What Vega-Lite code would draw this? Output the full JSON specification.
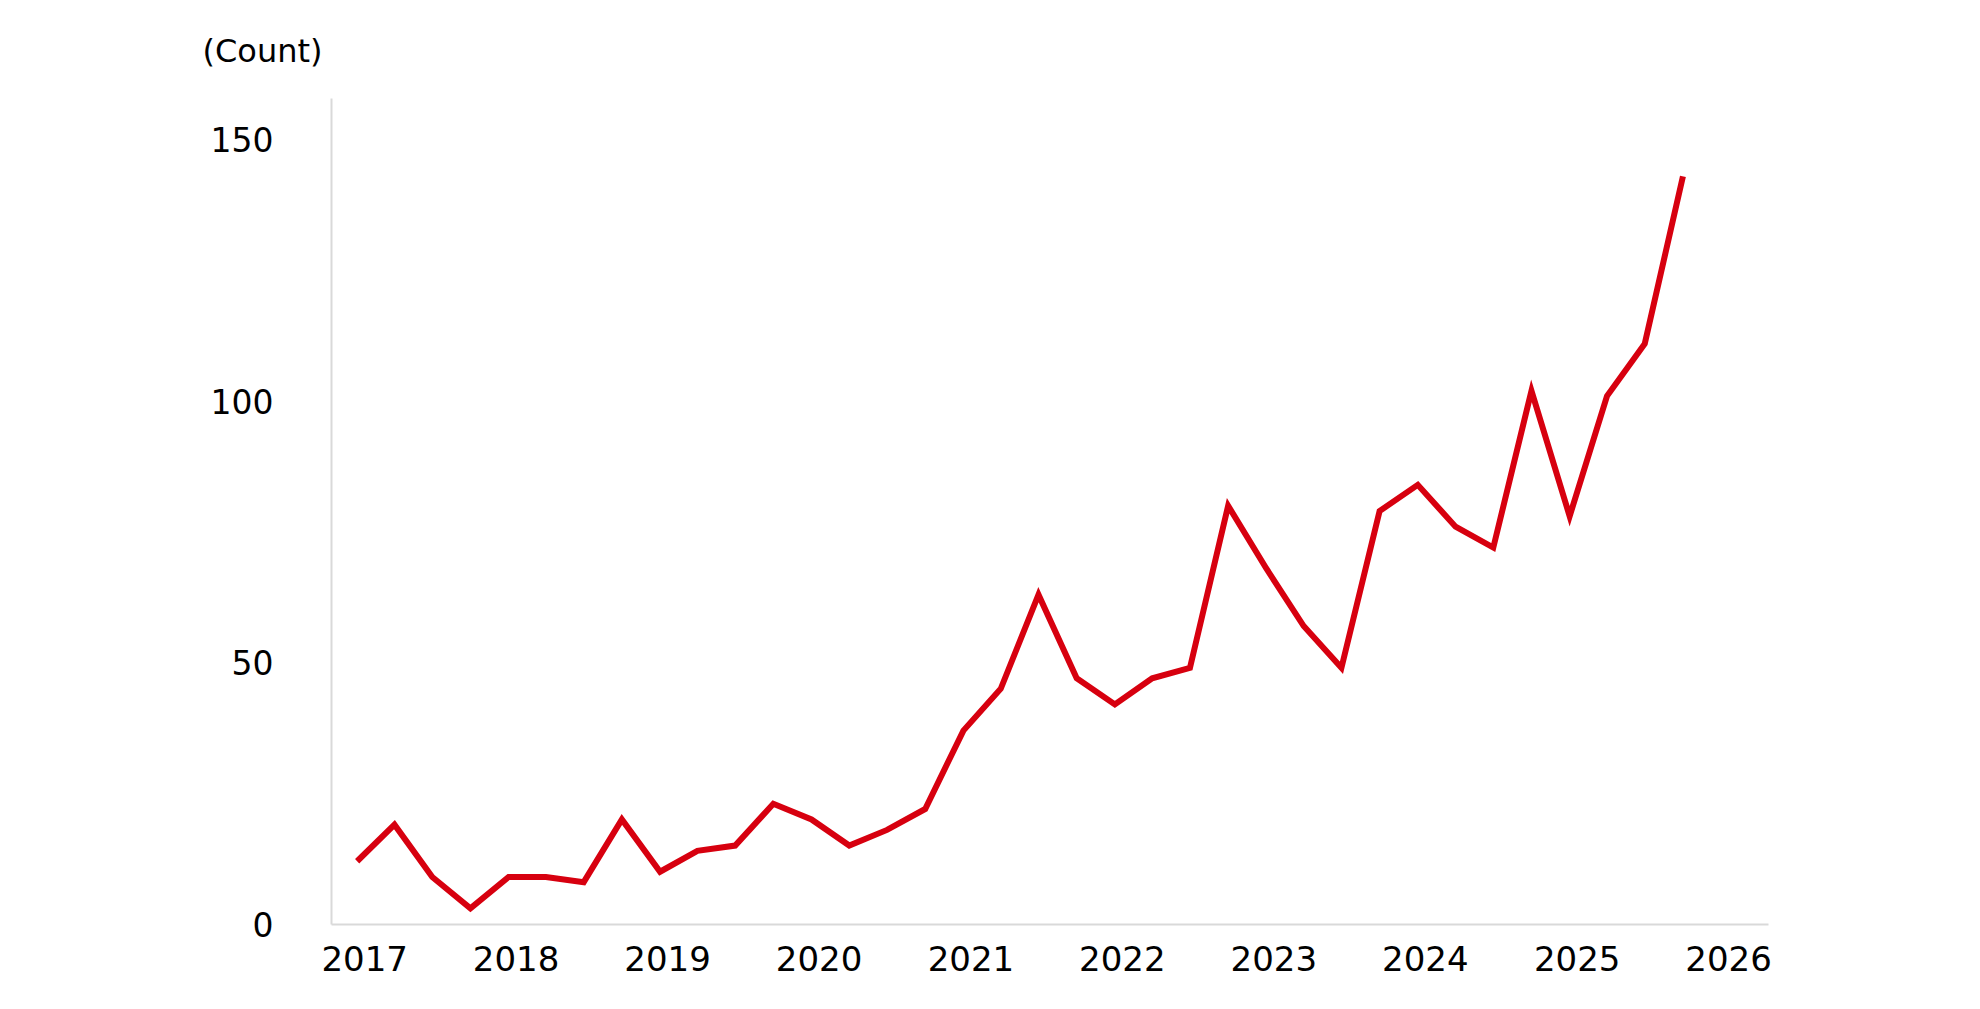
{
  "$schema": "https://vega.github.io/schema/vega-lite/v6.json",
  "width": 1437,
  "height": 826,
  "autosize": "none",
  "padding": {"left": 331, "top": 98, "right": 212, "bottom": 85},
  "background": "white",
  "config": {"view": {"stroke": null}},
  "data": {
    "values": [
      {"date": "2017-01-01", "count": 12},
      {"date": "2017-04-01", "count": 19},
      {"date": "2017-07-01", "count": 9},
      {"date": "2017-10-01", "count": 3},
      {"date": "2018-01-01", "count": 9},
      {"date": "2018-04-01", "count": 9},
      {"date": "2018-07-01", "count": 8},
      {"date": "2018-10-01", "count": 20},
      {"date": "2019-01-01", "count": 10},
      {"date": "2019-04-01", "count": 14},
      {"date": "2019-07-01", "count": 15},
      {"date": "2019-10-01", "count": 23},
      {"date": "2020-01-01", "count": 20},
      {"date": "2020-04-01", "count": 15},
      {"date": "2020-07-01", "count": 18},
      {"date": "2020-10-01", "count": 22},
      {"date": "2021-01-01", "count": 37},
      {"date": "2021-04-01", "count": 45},
      {"date": "2021-07-01", "count": 63},
      {"date": "2021-10-01", "count": 47},
      {"date": "2022-01-01", "count": 42},
      {"date": "2022-04-01", "count": 47},
      {"date": "2022-07-01", "count": 49},
      {"date": "2022-10-01", "count": 80},
      {"date": "2023-01-01", "count": 68},
      {"date": "2023-04-01", "count": 57},
      {"date": "2023-07-01", "count": 49},
      {"date": "2023-10-01", "count": 79},
      {"date": "2024-01-01", "count": 84},
      {"date": "2024-04-01", "count": 76},
      {"date": "2024-07-01", "count": 72},
      {"date": "2024-10-01", "count": 102},
      {"date": "2025-01-01", "count": 78},
      {"date": "2025-04-01", "count": 101},
      {"date": "2025-07-01", "count": 111},
      {"date": "2025-10-01", "count": 143}
    ]
  },
  "mark": {"type": "line", "color": "#d7000f", "strokeWidth": 6, "strokeJoin": "miter"},
  "encoding": {
    "x": {
      "field": "date",
      "type": "temporal",
      "scale": {"domain": ["2016-10-30", "2026-04-24"]},
      "axis": {
        "title": null,
        "format": "%Y",
        "tickCount": {"interval": "year", "step": 1},
        "grid": false,
        "ticks": false,
        "domainColor": "#d9d9d9",
        "domainWidth": 2,
        "labelFont": "DejaVu Sans",
        "labelFontSize": 34,
        "labelColor": "#000000",
        "labelPadding": 19,
        "labelOffset": 7,
        "labelFlush": false,
        "labelOverlap": false
      }
    },
    "y": {
      "field": "count",
      "type": "quantitative",
      "scale": {"domain": [0, 158], "nice": false},
      "axis": {
        "values": [0, 50, 100, 150],
        "grid": false,
        "ticks": false,
        "domainColor": "#d9d9d9",
        "domainWidth": 2,
        "labelFont": "DejaVu Sans",
        "labelFontSize": 33,
        "labelColor": "#000000",
        "labelPadding": 58,
        "labelOffset": 2,
        "title": "(Count)",
        "titleAngle": 0,
        "titleAlign": "left",
        "titleBaseline": "middle",
        "titleX": -129,
        "titleY": -47,
        "titleFont": "DejaVu Sans",
        "titleFontSize": 32,
        "titleFontWeight": "normal",
        "titleColor": "#000000"
      }
    }
  }
}
